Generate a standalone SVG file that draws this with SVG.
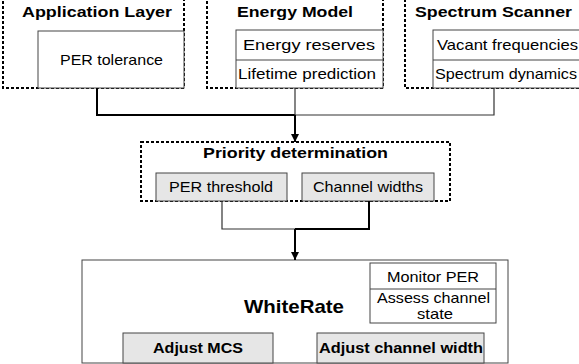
<svg xmlns="http://www.w3.org/2000/svg" width="579" height="364" viewBox="0 0 579 364">
<defs>
<style>
.dash{fill:none;stroke:#000;stroke-width:2;stroke-dasharray:3,2}
.box{fill:#fff;stroke:#444;stroke-width:1}
.gbox{fill:#e6e6e6;stroke:#444;stroke-width:1}
.t{font-family:"Liberation Sans",Arial,sans-serif;font-size:15px;fill:#000;text-anchor:middle}
.b{font-weight:bold}
.thick{fill:none;stroke:#000;stroke-width:2}
.thin{fill:none;stroke:#333;stroke-width:1.2}
</style>
<marker id="arr" viewBox="0 0 10 10" refX="10" refY="5" markerWidth="8" markerHeight="8" markerUnits="userSpaceOnUse" orient="auto">
<path d="M0,0 L10,5 L0,10 z" fill="#000"/>
</marker>
</defs>
<rect width="579" height="364" fill="#fff"/>

<g id="app-layer">
<rect class="dash" x="3" y="-1" width="181" height="89"/>
<rect class="box" x="38" y="31" width="146" height="57"/>
<text class="t b" x="97" y="17" textLength="150" lengthAdjust="spacingAndGlyphs">Application Layer</text>
<text class="t" x="111.5" y="65" textLength="103" lengthAdjust="spacingAndGlyphs">PER tolerance</text>
</g>

<g id="energy-model">
<rect class="dash" x="207" y="-1" width="176" height="89"/>
<rect class="box" x="236" y="30" width="147" height="58"/>
<line x1="236" y1="60" x2="383" y2="60" stroke="#444" stroke-width="1"/>
<text class="t b" x="295" y="17" textLength="116" lengthAdjust="spacingAndGlyphs">Energy Model</text>
<text class="t" x="309" y="50" textLength="132" lengthAdjust="spacingAndGlyphs">Energy reserves</text>
<text class="t" x="307" y="79" textLength="138" lengthAdjust="spacingAndGlyphs">Lifetime prediction</text>
</g>

<g id="spectrum-scanner">
<rect class="dash" x="405" y="-1" width="190" height="89"/>
<rect class="box" x="433" y="30" width="160" height="58"/>
<line x1="433" y1="60" x2="593" y2="60" stroke="#444" stroke-width="1"/>
<text class="t b" x="493.5" y="17" textLength="157" lengthAdjust="spacingAndGlyphs">Spectrum Scanner</text>
<text class="t" x="507.5" y="50" textLength="141" lengthAdjust="spacingAndGlyphs">Vacant frequencies</text>
<text class="t" x="506" y="79" textLength="142" lengthAdjust="spacingAndGlyphs">Spectrum dynamics</text>
</g>

<g id="priority">
<rect class="dash" x="141" y="142" width="309" height="59"/>
<text class="t b" x="295.5" y="158" textLength="185" lengthAdjust="spacingAndGlyphs">Priority determination</text>
<rect class="gbox" x="156" y="173" width="131" height="28"/>
<rect class="gbox" x="302" y="173" width="132" height="28"/>
<text class="t" x="221" y="192" textLength="104" lengthAdjust="spacingAndGlyphs">PER threshold</text>
<text class="t" x="368" y="192" textLength="110" lengthAdjust="spacingAndGlyphs">Channel widths</text>
</g>

<g id="whiterate">
<rect class="box" x="82" y="260" width="426" height="103"/>
<text class="t b" x="294" y="313" style="font-size:19px" textLength="100" lengthAdjust="spacingAndGlyphs">WhiteRate</text>
<rect class="box" x="370" y="263" width="126" height="60"/>
<line x1="370" y1="289" x2="496" y2="289" stroke="#444" stroke-width="1"/>
<text class="t" x="433" y="282" textLength="92" lengthAdjust="spacingAndGlyphs">Monitor PER</text>
<text class="t" x="433.5" y="303" textLength="113" lengthAdjust="spacingAndGlyphs">Assess channel</text>
<text class="t" x="435" y="319" textLength="36" lengthAdjust="spacingAndGlyphs">state</text>
<rect class="gbox" x="123" y="333" width="150" height="30"/>
<rect class="gbox" x="317" y="333" width="167" height="30"/>
<text class="t b" x="198" y="353" textLength="90" lengthAdjust="spacingAndGlyphs">Adjust MCS</text>
<text class="t b" x="401" y="353" textLength="164" lengthAdjust="spacingAndGlyphs">Adjust channel width</text>
</g>

<g id="connectors">
<path class="thick" d="M97 88 V115 H295"/>
<path class="thin" d="M494 88 V115 H295"/>
<path class="thin" d="M295 88 V115"/>
<path class="thick" d="M295 115 V142" marker-end="url(#arr)"/>
<path class="thin" d="M222 201 V229 H295"/>
<path class="thick" d="M369 201 V229 H295"/>
<path class="thick" d="M295 229 V260" marker-end="url(#arr)"/>
</g>
</svg>
